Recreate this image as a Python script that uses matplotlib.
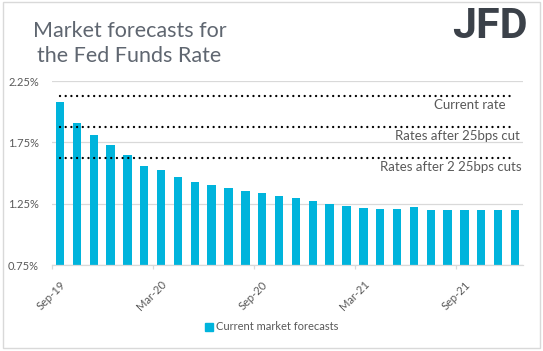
import numpy as np
import pandas as pd
import matplotlib
matplotlib.use('Agg')
import matplotlib.pyplot as plt
from matplotlib.patches import Patch, Rectangle

# ── data ──────────────────────────────────────────────────────────────────────
months = [d.strftime('%b-%y') for d in pd.date_range('2019-09-01', periods=28, freq='MS')]
forecasts = [2.08, 1.91, 1.81, 1.73, 1.65, 1.56, 1.525, 1.47, 1.43, 1.40,
             1.38, 1.355, 1.335, 1.315, 1.295, 1.27, 1.25, 1.23, 1.215, 1.205,
             1.205, 1.22, 1.20, 1.20, 1.20, 1.20, 1.20, 1.20]
ref_names = ['Current rate', 'Rates after 25bps cut', 'Rates after 2 25bps cuts']
ref_levels = [2.125, 1.875, 1.625]
tick_every = 6
y_ticks = [0.75, 1.25, 1.75, 2.25]

BAR_C = '#00b4dc'
TXT_C = '#595959'
GRID_C = '#d9d9d9'
FONT = 'Lato'

W, H = 543, 351
fig = plt.figure(figsize=(W / 100, H / 100), dpi=100)
ax = fig.add_axes([51.6 / W, 86 / H, (523.4 - 51.6) / W, 184 / H])

x = np.arange(len(months))
ax.bar(x, forecasts, width=0.5, color=BAR_C, zorder=2)

# dotted reference lines + their labels
for lvl in ref_levels:
    ax.plot([x[0], x[-1]], [lvl, lvl], color='black', lw=1.7,
            ls=(0, (0.01, 2.4)), dash_capstyle='round', zorder=3)
ax.text(26.47, 2.055, ref_names[0], ha='right', va='center', fontsize=9.5,
        color=TXT_C, family=FONT)
ax.text(27.27, 1.805, ref_names[1], ha='right', va='center', fontsize=9.5,
        color=TXT_C, family=FONT)
ax.text(27.37, 1.549, ref_names[2], ha='right', va='center', fontsize=9.5,
        color=TXT_C, family=FONT)

ax.set_xlim(-0.5, len(months) - 0.5)
ax.set_ylim(y_ticks[0], y_ticks[-1])
ax.set_yticks(y_ticks)
ax.set_yticklabels([f'{v:.2f}%' for v in y_ticks], family=FONT, fontsize=8, color=TXT_C)
ax.yaxis.grid(True, color=GRID_C, lw=0.9, zorder=0)
ax.tick_params(axis='y', length=0, pad=9)

lab_idx = x[::tick_every]
ax.set_xticks(lab_idx)
ax.set_xticklabels([months[i] for i in lab_idx], rotation=45, ha='right',
                   va='top', rotation_mode='anchor', family=FONT, fontsize=8, color=TXT_C)
ax.tick_params(axis='x', which='major', length=0, pad=10)
ax.set_xticks(lab_idx - 0.5, minor=True)
ax.tick_params(axis='x', which='minor', length=3, color=GRID_C, width=0.9)

for s in ['top', 'right', 'left']:
    ax.spines[s].set_visible(False)
ax.spines['bottom'].set_color(GRID_C)
ax.spines['bottom'].set_linewidth(0.9)
ax.set_axisbelow(True)

# title and logo
fig.text(33 / W, 1 - 31 / H, 'Market forecasts for', ha='left', va='center',
         fontsize=15.5, color='#5f6670', family=FONT)
fig.text(37 / W, 1 - 56 / H, 'the Fed Funds Rate', ha='left', va='center',
         fontsize=15.5, color='#5f6670', family=FONT)
fig.text(528 / W, 1 - 27 / H, 'JFD', ha='right', va='center', fontsize=31,
         color='#3b4149', family='Roboto', fontweight='bold')

# legend
fig.legend(handles=[Patch(color=BAR_C, label='Current market forecasts')],
           loc='center', bbox_to_anchor=(272 / W, 1 - 327 / H), frameon=False,
           handlelength=0.7, handleheight=0.7, handletextpad=0.3,
           prop={'family': FONT, 'size': 8}, labelcolor=TXT_C)

# chart-area border
fig.patches.append(Rectangle((3 / W, 3 / H), 537 / W, 346 / H, transform=fig.transFigure,
                             fill=False, edgecolor=GRID_C, lw=1))

fig.savefig('out.png', dpi=100)
